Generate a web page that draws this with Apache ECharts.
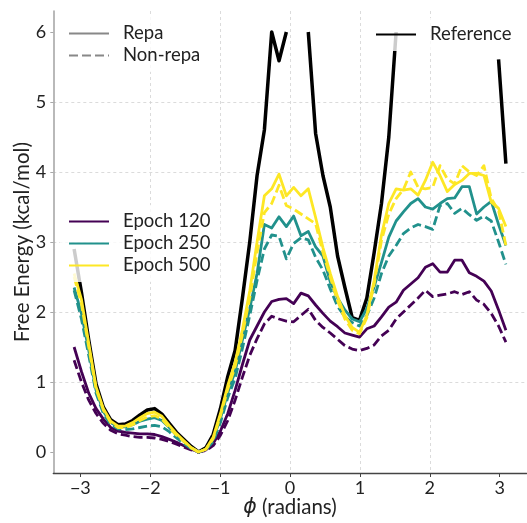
<!DOCTYPE html>
<html>
<head>
<meta charset="utf-8">
<script src="https://cdn.jsdelivr.net/npm/echarts@6/dist/echarts.min.js"></script>
<style>
  html, body { margin: 0; padding: 0; background: #fff; }
  #chart { width: 527px; height: 523px; }
</style>
</head>
<body>
<div id="chart"></div>
<script>
// Dihedral angle bins: 60 bin centres spanning [-pi, pi)
const nBins = 60;
const phi = Array.from({ length: nBins }, (_, i) => -Math.PI + (i + 0.5) * 2 * Math.PI / nBins);

const xTicks = [-3, -2, -1, 0, 1, 2, 3];
const yTicks = [0, 1, 2, 3, 4, 5, 6];

// Reference free energy (null = unsampled bin)
const reference = [
  2.90, 2.28, 1.60, 0.97, 0.64, 0.46, 0.39, 0.40, 0.45, 0.53,
  0.60, 0.62, 0.54, 0.41, 0.28, 0.18, 0.08, 0.00, 0.06, 0.25,
  0.62, 1.08, 1.45, 2.20, 3.00, 3.95, 4.60, 6.00, 5.59, 6.00,
  null, null, 6.00, 4.55, 3.95, 3.50, 2.80, 2.35, 1.92, 1.88,
  2.20, 2.85, 3.55, 4.50, 6.00, null, null, null, null, null,
  null, null, null, null, null, null, null, null, 5.61, 4.12
];

// Epoch 120
const e120Repa = [
  1.50, 1.15, 0.84, 0.62, 0.47, 0.35, 0.30, 0.28, 0.27, 0.26,
  0.26, 0.25, 0.22, 0.18, 0.14, 0.09, 0.04, 0.00, 0.03, 0.12,
  0.30, 0.55, 0.88, 1.25, 1.60, 1.80, 2.00, 2.15, 2.18, 2.19,
  2.12, 2.27, 2.23, 2.10, 1.98, 1.87, 1.79, 1.70, 1.67, 1.64,
  1.76, 1.80, 1.93, 2.07, 2.14, 2.31, 2.40, 2.49, 2.64, 2.69,
  2.57, 2.57, 2.74, 2.74, 2.56, 2.51, 2.44, 2.30, 2.03, 1.74
];
const e120NonRepa = [
  1.31, 1.00, 0.74, 0.55, 0.41, 0.31, 0.26, 0.24, 0.22, 0.21,
  0.21, 0.20, 0.18, 0.15, 0.11, 0.07, 0.03, 0.00, 0.02, 0.09,
  0.24, 0.45, 0.74, 1.07, 1.38, 1.62, 1.83, 1.94, 1.90, 1.87,
  1.86, 1.95, 2.04, 1.88, 1.78, 1.70, 1.61, 1.52, 1.47, 1.45,
  1.48, 1.53, 1.66, 1.74, 1.90, 2.00, 2.10, 2.20, 2.31, 2.22,
  2.24, 2.26, 2.29, 2.25, 2.29, 2.17, 2.11, 1.98, 1.80, 1.57
];

// Epoch 250
const e250Repa = [
  2.35, 1.98, 1.45, 0.88, 0.58, 0.42, 0.36, 0.36, 0.39, 0.44,
  0.47, 0.49, 0.45, 0.35, 0.24, 0.15, 0.06, 0.00, 0.04, 0.18,
  0.48, 0.85, 1.15, 1.60, 2.05, 2.55, 3.25, 3.20, 3.36, 3.22,
  3.37, 3.09, 3.15, 2.93, 2.80, 2.43, 2.20, 2.03, 1.90, 1.86,
  2.05, 2.36, 2.71, 3.07, 3.30, 3.43, 3.55, 3.62, 3.50, 3.47,
  3.55, 3.62, 3.63, 3.79, 3.79, 3.40, 3.50, 3.58, 3.25, 2.95
];
const e250NonRepa = [
  2.31, 1.90, 1.38, 0.84, 0.55, 0.39, 0.33, 0.32, 0.33, 0.35,
  0.37, 0.38, 0.36, 0.29, 0.20, 0.12, 0.05, 0.00, 0.03, 0.15,
  0.42, 0.78, 1.05, 1.48, 1.95, 2.45, 2.90, 3.10, 3.08, 2.76,
  2.98, 3.06, 3.03, 2.78, 2.60, 2.33, 2.08, 1.93, 1.85, 1.80,
  1.95, 2.20, 2.55, 2.80, 2.95, 3.12, 3.20, 3.25, 3.22, 3.18,
  3.52, 3.55, 3.41, 3.48, 3.39, 3.31, 3.37, 3.30, 3.00, 2.68
];

// Epoch 500
const e500Repa = [
  2.55, 2.18, 1.55, 0.93, 0.62, 0.44, 0.37, 0.37, 0.42, 0.49,
  0.55, 0.57, 0.51, 0.38, 0.26, 0.16, 0.06, 0.00, 0.04, 0.21,
  0.55, 0.95, 1.28, 1.75, 2.30, 3.00, 3.66, 3.76, 3.97, 3.66,
  3.78, 3.66, 3.76, 3.35, 2.92, 2.55, 2.22, 1.95, 1.78, 1.71,
  1.95, 2.45, 3.10, 3.55, 3.76, 3.74, 3.76, 3.67, 3.88, 4.14,
  3.95, 3.72, 3.82, 3.88, 3.98, 3.98, 3.95, 3.57, 3.48, 3.22
];
const e500NonRepa = [
  2.50, 2.12, 1.50, 0.90, 0.60, 0.42, 0.35, 0.35, 0.39, 0.45,
  0.50, 0.52, 0.47, 0.35, 0.24, 0.15, 0.06, 0.00, 0.04, 0.19,
  0.52, 0.90, 1.22, 1.68, 2.20, 2.85, 3.42, 3.55, 3.81, 3.52,
  3.47, 3.40, 3.33, 3.26, 2.85, 2.50, 2.16, 1.90, 1.74, 1.69,
  1.92, 2.40, 3.02, 3.40, 3.62, 3.75, 4.00, 3.78, 3.76, 3.78,
  4.09, 3.90, 3.83, 4.09, 4.00, 3.95, 4.09, 3.62, 3.45, 2.95
];

const C120 = '#440154', C250 = '#21918c', C500 = '#fde725';
const FONT = 'Lato';
const DASH = [9, 4];

const pair = vals => phi.map((x, i) => [x, vals[i] == null ? '-' : vals[i]]);
const minus = v => String(v).replace('-', '\u2212');

function curve(name, vals, color, width, dashed) {
  return {
    name, type: 'line', data: pair(vals), symbol: 'none', showSymbol: false,
    connectNulls: false, silent: true, color,
    lineStyle: { color, width, type: dashed ? DASH : 'solid', join: 'round' }
  };
}

// legend handles are plain line strokes (symbol marker hidden)
const legendBase = {
  orient: 'vertical', itemWidth: 40, itemHeight: 14, itemGap: 3,
  padding: [7, 10, 7, 8], backgroundColor: 'rgba(255,255,255,0.8)',
  borderRadius: 4, selectedMode: false,
  itemStyle: { opacity: 0 },
  textStyle: { fontFamily: FONT, fontSize: 18.5, color: '#222', padding: [0, 0, 0, 9] }
};

const axisText = { fontFamily: FONT, fontSize: 18, color: '#222' };
const gridLine = { show: true, showMinLine: false, showMaxLine: false,
  lineStyle: { type: [3, 3], color: '#d2d2d2', width: 0.8 } };

const chart = echarts.init(document.getElementById('chart'), null, { renderer: 'canvas' });
chart.setOption({
  animation: false,
  backgroundColor: '#fff',
  grid: { left: 53.3, right: 0.3, top: 11, bottom: 48.3, containLabel: false },
  xAxis: {
    type: 'value', min: -3.387, max: 3.387,
    name: '{i|ϕ} (radians)', nameLocation: 'middle', nameGap: 24, nameMoveOverlap: false,
    nameTextStyle: {
      fontFamily: FONT, fontSize: 20.5, color: '#222',
      rich: { i: { fontFamily: 'DejaVu Sans', fontStyle: 'italic', fontSize: 20.5, color: '#222' } }
    },
    axisLine: { show: true, onZero: false, lineStyle: { color: '#444', width: 1.3 } },
    axisTick: { show: true, length: 4, customValues: xTicks, lineStyle: { color: '#444' } },
    axisLabel: Object.assign({ customValues: xTicks, margin: 6, formatter: minus }, axisText),
    splitLine: gridLine
  },
  yAxis: {
    type: 'value', min: -0.3, max: 6.3,
    name: 'Free Energy (kcal/mol)', nameLocation: 'middle', nameGap: 20, nameMoveOverlap: false,
    nameTextStyle: { fontFamily: FONT, fontSize: 20.5, color: '#222' },
    axisLine: { show: true, onZero: false, lineStyle: { color: '#a8a8a8', width: 1.6 } },
    axisTick: { show: true, length: 3, customValues: yTicks, lineStyle: { color: '#a8a8a8' } },
    axisLabel: Object.assign({ customValues: yTicks, margin: 7, formatter: minus }, axisText),
    splitLine: gridLine
  },
  legend: [
    Object.assign({}, legendBase, { data: ['Repa', 'Non-repa'], left: 60, top: 17 }),
    Object.assign({}, legendBase, { data: ['Reference'], left: 367, top: 18 }),
    Object.assign({}, legendBase, { data: ['Epoch 120', 'Epoch 250', 'Epoch 500'], left: 60, top: 205 })
  ],
  series: [
    curve('Reference', reference, '#000', 3.5, false),
    curve('Epoch 120', e120Repa, C120, 2.8, false),
    curve('Epoch 120 non-repa', e120NonRepa, C120, 2.8, true),
    curve('Epoch 250', e250Repa, C250, 2.8, false),
    curve('Epoch 250 non-repa', e250NonRepa, C250, 2.8, true),
    curve('Epoch 500', e500Repa, C500, 2.8, false),
    curve('Epoch 500 non-repa', e500NonRepa, C500, 2.8, true),
    { name: 'Repa', type: 'line', data: [], symbol: 'none', color: '#888',
      lineStyle: { color: '#888', width: 3, type: 'solid' } },
    { name: 'Non-repa', type: 'line', data: [], symbol: 'none', color: '#888',
      lineStyle: { color: '#888', width: 3, type: DASH } }
  ]
});
</script>
</body>
</html>
